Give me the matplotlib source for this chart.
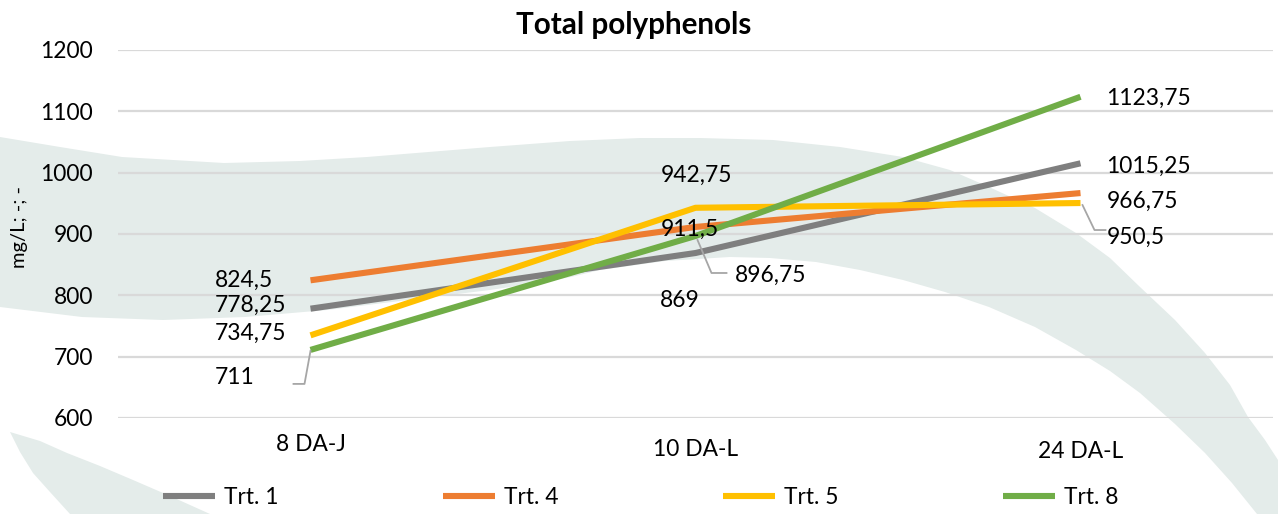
import matplotlib
matplotlib.use("Agg")
import matplotlib.pyplot as plt
from matplotlib.patches import Polygon
from matplotlib.lines import Line2D

# ---------------- data ----------------
categories = ["8 DA-J", "10 DA-L", "24 DA-L"]
series_names = ["Trt. 1", "Trt. 4", "Trt. 5", "Trt. 8"]
trt1 = [778.25, 869, 1015.25]
trt4 = [824.5, 911.5, 966.75]
trt5 = [734.75, 942.75, 950.5]
trt8 = [711, 896.75, 1123.75]
y_ticks = [600, 700, 800, 900, 1000, 1100, 1200]
title = "Total polyphenols"
y_label = "mg/L; -; -"

# ---------------- style ----------------
colors = ["#7F7F7F", "#ED7D31", "#FFC000", "#70AD47"]
FONT = "Lato"
W, H = 1278, 514
plt.rcParams["font.family"] = [FONT, "DejaVu Sans"]

# label offsets (pixels: dx right, dy down) per series per category
label_offsets = [
    [(-60, -3), (-16, 47), (68, 3)],
    [(-67, 0), (-6, 2), (62, 8)],
    [(-60, -2), (1, -32), (55, 34)],
    [(-76, 28), (75, 39), (68, 2)],
]
# leader lines (pixel offsets relative to the point) for some labels
leaders = {
    (3, 0): [(0, 1), (-6, 34), (-17, 34)],
    (3, 1): [(2, 4), (16, 37), (31, 37)],
    (2, 2): [(2, 2), (14, 27), (25, 27)],
}

fig = plt.figure(figsize=(W / 100, H / 100), dpi=100)
fig.patch.set_facecolor("white")

def px(x, y):
    return (x / W, 1 - y / H)

shade = "#E4ECEA"
outer = [(0, 137), (60, 147), (122, 157), (224, 163), (300, 161), (367, 157), (490, 147),
         (570, 141), (640, 138), (700, 138), (773, 140), (840, 147), (903, 157),
         (950, 170), (989, 187), (1035, 208), (1076, 233), (1110, 258), (1140, 287),
         (1175, 320), (1205, 353), (1230, 385), (1248, 417), (1265, 440), (1278, 460),
         (1278, 514)]
inner = [(1257, 514), (1232, 483), (1205, 453), (1175, 424), (1140, 393), (1110, 371),
         (1076, 350), (1035, 327), (989, 307), (945, 292), (903, 280), (860, 270),
         (816, 262), (770, 258), (730, 257), (665, 261), (600, 270), (571, 277),
         (530, 284), (490, 290), (408, 300), (327, 310), (245, 317), (163, 320),
         (82, 317), (0, 307)]
fig.patches.append(Polygon([px(*p) for p in outer + inner], closed=True,
                           transform=fig.transFigure, facecolor=shade,
                           edgecolor="none", zorder=0))
wedge = [(10, 432), (40, 441), (67, 453), (100, 466), (133, 480), (170, 496), (210, 514),
         (70, 514), (50, 492), (33, 473), (20, 452)]
fig.patches.append(Polygon([px(*p) for p in wedge], closed=True, transform=fig.transFigure,
                           facecolor=shade, edgecolor="none", zorder=0))

left, right, top, bottom = 118, 1273, 50, 418
ax = fig.add_axes([left / W, 1 - bottom / H, (right - left) / W, (bottom - top) / H])
ax.set_zorder(2)
ax.set_facecolor("none")
ax.set_xlim(-0.5, len(categories) - 0.5)
ax.set_ylim(600, 1200)
ax.set_yticks(y_ticks)
ax.set_yticklabels([str(t) for t in y_ticks], fontsize=16.4, color="#000000")
ax.tick_params(axis="y", length=0, pad=18)
ax.set_xticks([])
for s in ax.spines.values():
    s.set_visible(False)
ax.grid(axis="y", color="#D9D9D9", linewidth=1.6)
ax.set_axisbelow(True)

# category labels
cat_dy = [27, 32, 34]
for i, c in enumerate(categories):
    ax.annotate(c, xy=(i, 600), xytext=(0, -cat_dy[i] * 0.72), textcoords="offset points",
                ha="center", va="center", fontsize=16.4, annotation_clip=False)

all_series = [trt1, trt4, trt5, trt8]
xs = list(range(len(categories)))
handles = []
for k, (name, vals) in enumerate(zip(series_names, all_series)):
    ln, = ax.plot(xs, vals, color=colors[k], linewidth=4.4, solid_capstyle="butt",
                  label=name, zorder=3 + k)
    handles.append(ln)

def fmt(v):
    s = ("%.2f" % v).rstrip("0").rstrip(".")
    return s.replace(".", ",")

for k, vals in enumerate(all_series):
    for i, v in enumerate(vals):
        dx, dy = label_offsets[k][i]
        ax.annotate(fmt(v), xy=(i, v), xytext=(dx * 0.72, -dy * 0.72),
                    textcoords="offset points", ha="center", va="center",
                    fontsize=16.4, zorder=10)

fig.canvas.draw()
for (k, i), pts in leaders.items():
    v = all_series[k][i]
    X, Y = ax.transData.transform((i, v))
    fx = [(X + dx) / W for dx, dy in pts]
    fy = [(Y - dy) / H for dx, dy in pts]
    fig.add_artist(Line2D(fx, fy, transform=fig.transFigure, color="#A6A6A6",
                          linewidth=1.3, zorder=9))

fig.text(634 / W, 1 - 25 / H, title, ha="center", va="center", fontsize=21.3,
         fontweight="bold", zorder=10)
fig.text(19 / W, 1 - 227 / H, y_label, ha="center", va="center", rotation=90,
         fontsize=14.5, zorder=10)

leg = fig.legend(handles=handles, labels=series_names, loc="center",
                 bbox_to_anchor=(641 / W, 1 - 497 / H), ncol=4, frameon=False,
                 fontsize=16.4, handlelength=2.3, handletextpad=0.4, columnspacing=7.2)
leg.set_zorder(10)

fig.savefig("out.png", dpi=100)
